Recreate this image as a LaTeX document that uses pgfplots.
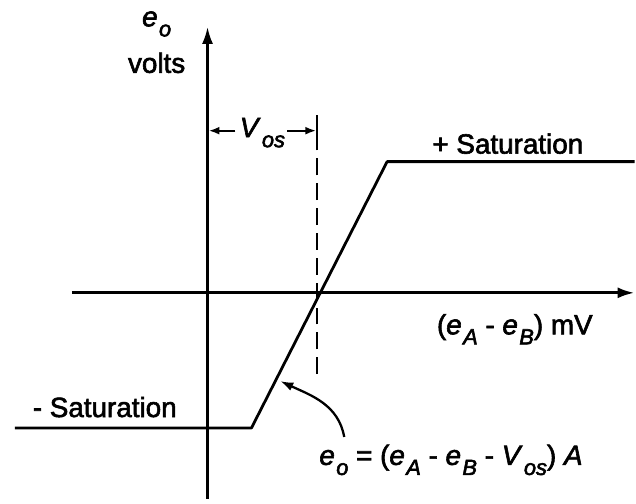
\documentclass[border=0pt]{standalone}
\usepackage{fontspec}
\setmainfont{Liberation Sans}
\usepackage{pgfplots}
\pgfplotsset{compat=1.18}
\usetikzlibrary{arrows.meta}

% italic variable with a lowered italic subscript
\newcommand{\sv}[2]{\textit{#1}\kern0.05em\raisebox{-0.36em}{\fontsize{22}{22}\selectfont\textit{#2}}}
% labels are set slightly heavier: glyphs filled and outlined
\newcommand{\lbl}{\fontsize{28}{30}\selectfont\special{pdf:literal 2 Tr 0.6 w}}

\begin{document}
\begin{tikzpicture}
\begin{axis}[
  x=1bp, y=1bp,
  xmin=0, xmax=636, ymin=0, ymax=505,
  axis line style={draw=none},
  xtick=\empty, ytick=\empty,
  clip=false,
]
% coordinate axes
\addplot[black, line width=2.9pt, -{Latex[length=17pt,width=11pt]}] coordinates {(72,211.5) (636,211.5)};
\addplot[black, line width=2.4pt, -{Latex[length=17pt,width=11pt]}] coordinates {(208,5) (208,478)};

% transfer characteristic: saturation limits joined by the linear region
\addplot[black, line width=2.8pt, line join=round] coordinates {
  (15,76) (252,76) (388,343) (636,343)};

% offset voltage marker
\addplot[black, line width=2.4pt, dash pattern=on 17pt off 8pt] coordinates {(318,130) (318,388)};
\addplot[black, line width=2.2pt] coordinates {(318,370) (318,390)};
\addplot[black, line width=2.2pt, -{Latex[length=11pt,width=8pt]}] coordinates {(236,374) (209,374)};
\addplot[black, line width=2.2pt, -{Latex[length=11pt,width=8pt]}] coordinates {(288,374) (317,374)};

% pointer to the linear region
\draw[black, line width=2.3pt, -{Latex[length=13pt,width=9pt]}]
  (axis cs:345,67) to[out=100,in=-25] (axis cs:281,123);

% labels
\node[font=\lbl] at (axis cs:157,481) {\sv{e}{o}};
\node[font=\lbl] at (axis cs:157,442) {volts};
\node[font=\lbl] at (axis cs:263,372) {\sv{V}{os}};
\node[font=\lbl] at (axis cs:509,361) {+ Saturation};
\node[font=\lbl] at (axis cs:105,97) {- Saturation};
\node[font=\lbl] at (axis cs:516,175) {(\sv{e}{A} - \sv{e}{B}) mV};
\node[font=\lbl] at (axis cs:452,44) {\sv{e}{o} = (\sv{e}{A} - \sv{e}{B} - \sv{V}{os}) \textit{A}};
\end{axis}
\end{tikzpicture}
\end{document}
